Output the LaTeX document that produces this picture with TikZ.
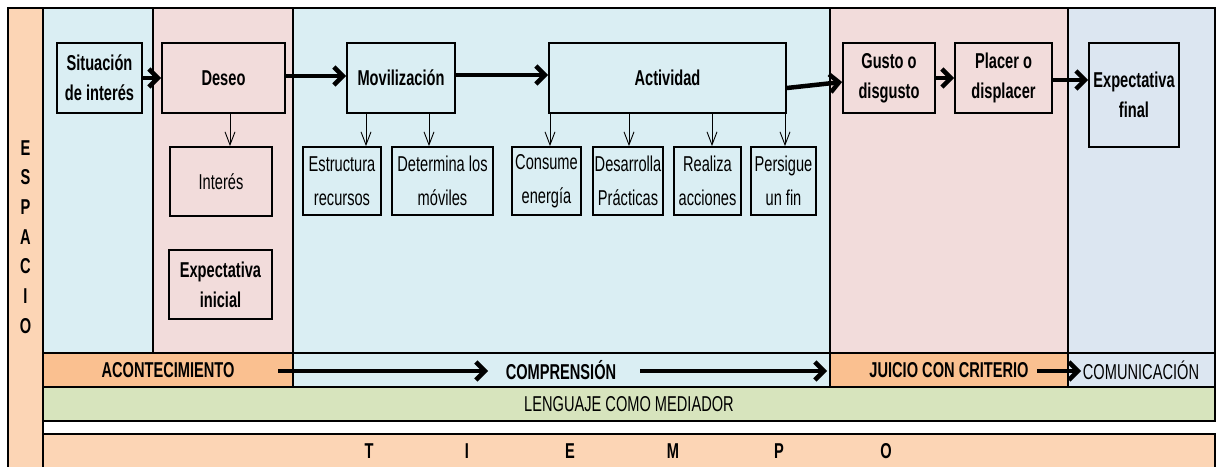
\documentclass[tikz,border=0pt]{standalone}
\usepackage{fontspec}
\setmainfont{Liberation Sans}[FakeStretch=0.68]
\usetikzlibrary{arrows.meta}
\definecolor{cblue}{HTML}{DAEEF3}
\definecolor{cpink}{HTML}{F2DCDB}
\definecolor{cgray}{HTML}{DCE6F1}
\definecolor{corange}{HTML}{FAC090}
\definecolor{cpeach}{HTML}{FCD5B5}
\definecolor{cgreen}{HTML}{D7E4BD}
\tikzset{
  area/.style={draw=black, line width=1.8pt},
  box/.style={draw=black, line width=1.8pt, inner sep=0pt, align=center,
    font=\bfseries\fontsize{21.5}{30}\selectfont},
  sbox/.style={box, font=\fontsize{21.5}{34}\selectfont},
  lbl/.style={inner sep=0pt, font=\bfseries\fontsize{21.5}{26}\selectfont},
  rlbl/.style={inner sep=0pt, font=\fontsize{21.5}{26}\selectfont},
  bigarr/.style={line width=4.5pt, -{Straight Barb[length=9pt,width=18pt]}},
  smarr/.style={line width=0.9pt, -{Straight Barb[length=13pt,width=10pt]}}
}
\begin{document}
\begin{tikzpicture}[x=1pt,y=-1pt]
\useasboundingbox (0,0) rectangle (1217,466);
% background areas
\draw[area, fill=cpeach] (8,8) rectangle (43,470);
\draw[area, fill=cblue] (43,8) rectangle (153,353);
\draw[area, fill=cpink] (153,8) rectangle (293,353);
\draw[area, fill=cblue] (293,8) rectangle (830,353);
\draw[area, fill=cpink] (830,8) rectangle (1068,353);
\draw[area, fill=cgray] (1068,8) rectangle (1215,353);
\draw[area, fill=corange] (43,353) rectangle (293,387);
\draw[area, fill=cblue] (293,353) rectangle (830,387);
\draw[area, fill=corange] (830,353) rectangle (1068,387);
\draw[area, fill=cgray] (1068,353) rectangle (1215,387);
\draw[area, fill=cgreen] (43,387) rectangle (1215,421);
\draw[area, fill=cpeach] (43,434) rectangle (1215,470);
% ESPACIO
\node[lbl, align=center, font=\bfseries\fontsize{21.5}{29.7}\selectfont] (esp) at (25.5,237) {E\\S\\P\\A\\C\\I\\O};
% main boxes
\node[box, minimum width=85pt, minimum height=70pt] (sit) at (99.5,78) {Situación\\de interés};
\node[box, minimum width=123pt, minimum height=70pt] (des) at (223.5,78) {Deseo};
\node[sbox, minimum width=102pt, minimum height=69pt] (int) at (221,181.5) {Interés};
\node[box, minimum width=103pt, minimum height=69pt] (expi) at (220.5,284.5) {Expectativa\\inicial};
\node[box, minimum width=108pt, minimum height=70pt] (mov) at (401,78) {Movilización};
\node[box, minimum width=237pt, minimum height=70pt] (act) at (667.5,78) {Actividad};
\node[sbox, minimum width=78pt, minimum height=68pt] (est) at (342,181) {Estructura\\recursos};
\node[sbox, minimum width=101pt, minimum height=68pt] (det) at (442.5,181) {Determina los\\móviles};
\node[sbox, minimum width=69pt, minimum height=68pt] (con) at (546.5,181) {Consume\\energía};
\node[sbox, minimum width=70pt, minimum height=68pt] (dsa) at (628,181) {Desarrolla\\Prácticas};
\node[sbox, minimum width=67pt, minimum height=68pt] (rea) at (707.5,181) {Realiza\\acciones};
\node[sbox, minimum width=65pt, minimum height=68pt] (per) at (783.5,181) {Persigue\\un fin};
\node[box, minimum width=92pt, minimum height=70pt] (gus) at (889,78) {Gusto o\\disgusto};
\node[box, minimum width=97pt, minimum height=70pt] (pla) at (1003.5,78) {Placer o\\displacer};
\node[box, minimum width=90pt, minimum height=104pt] (expf) at (1134,95) {Expectativa\\final};
% thick arrows
\draw[bigarr] (sit.east) -- (des.west);
\draw[bigarr] ([yshift=2pt]des.east) -- ([yshift=2pt]mov.west);
\draw[bigarr] ([yshift=3pt]mov.east) -- ([yshift=3pt]act.west);
\draw[bigarr] ([yshift=-10pt]act.east) -- ([yshift=-4pt]gus.west);
\draw[bigarr] (gus.east) -- (pla.west);
\draw[bigarr] ([yshift=-2pt]pla.east) -- ([yshift=-2pt]pla.east -| expf.west);
% thin arrows
\coordinate (c230) at (230,0);
\coordinate (c366) at (366,0);
\coordinate (c429) at (429,0);
\coordinate (c550) at (550,0);
\coordinate (c629) at (629,0);
\coordinate (c712) at (712,0);
\coordinate (c785) at (785,0);
\draw[smarr] (des.south -| c230) -- (int.north -| c230);
\draw[smarr] (mov.south -| c366) -- (est.north -| c366);
\draw[smarr] (mov.south -| c429) -- (det.north -| c429);
\draw[smarr] (act.south -| c550) -- (con.north -| c550);
\draw[smarr] (act.south -| c629) -- (dsa.north -| c629);
\draw[smarr] (act.south -| c712) -- (rea.north -| c712);
\draw[smarr] (act.south -| c785) -- (per.north -| c785);
% band labels
\node[lbl] (acon) at (168,370) {ACONTECIMIENTO};
\node[lbl] (comp) at (561,370) {COMPRENSIÓN};
\node[lbl] (juic) at (949,370) {JUICIO CON CRITERIO};
\node[rlbl] (comu) at (1141,370) {COMUNICACIÓN};
\node[rlbl] (leng) at (629,404) {LENGUAJE COMO MEDIADOR};
\coordinate (a1s) at (278,371);
\coordinate (a1e) at (488,371);
\coordinate (a2s) at (640,371);
\coordinate (a2e) at (827,371);
\coordinate (a3s) at (1037,371);
\coordinate (a3e) at (1081,371);
\draw[bigarr] (a1s) -- (a1e);
\draw[bigarr] (a2s) -- (a2e);
\draw[bigarr] (a3s) -- (a3e);
% TIEMPO
\node[lbl] (t1) at (369,451) {T};
\node[lbl] (t2) at (467,451) {I};
\node[lbl] (t3) at (570,451) {E};
\node[lbl] (t4) at (673,451) {M};
\node[lbl] (t5) at (779,451) {P};
\node[lbl] (t6) at (886,451) {O};
\end{tikzpicture}
\end{document}
